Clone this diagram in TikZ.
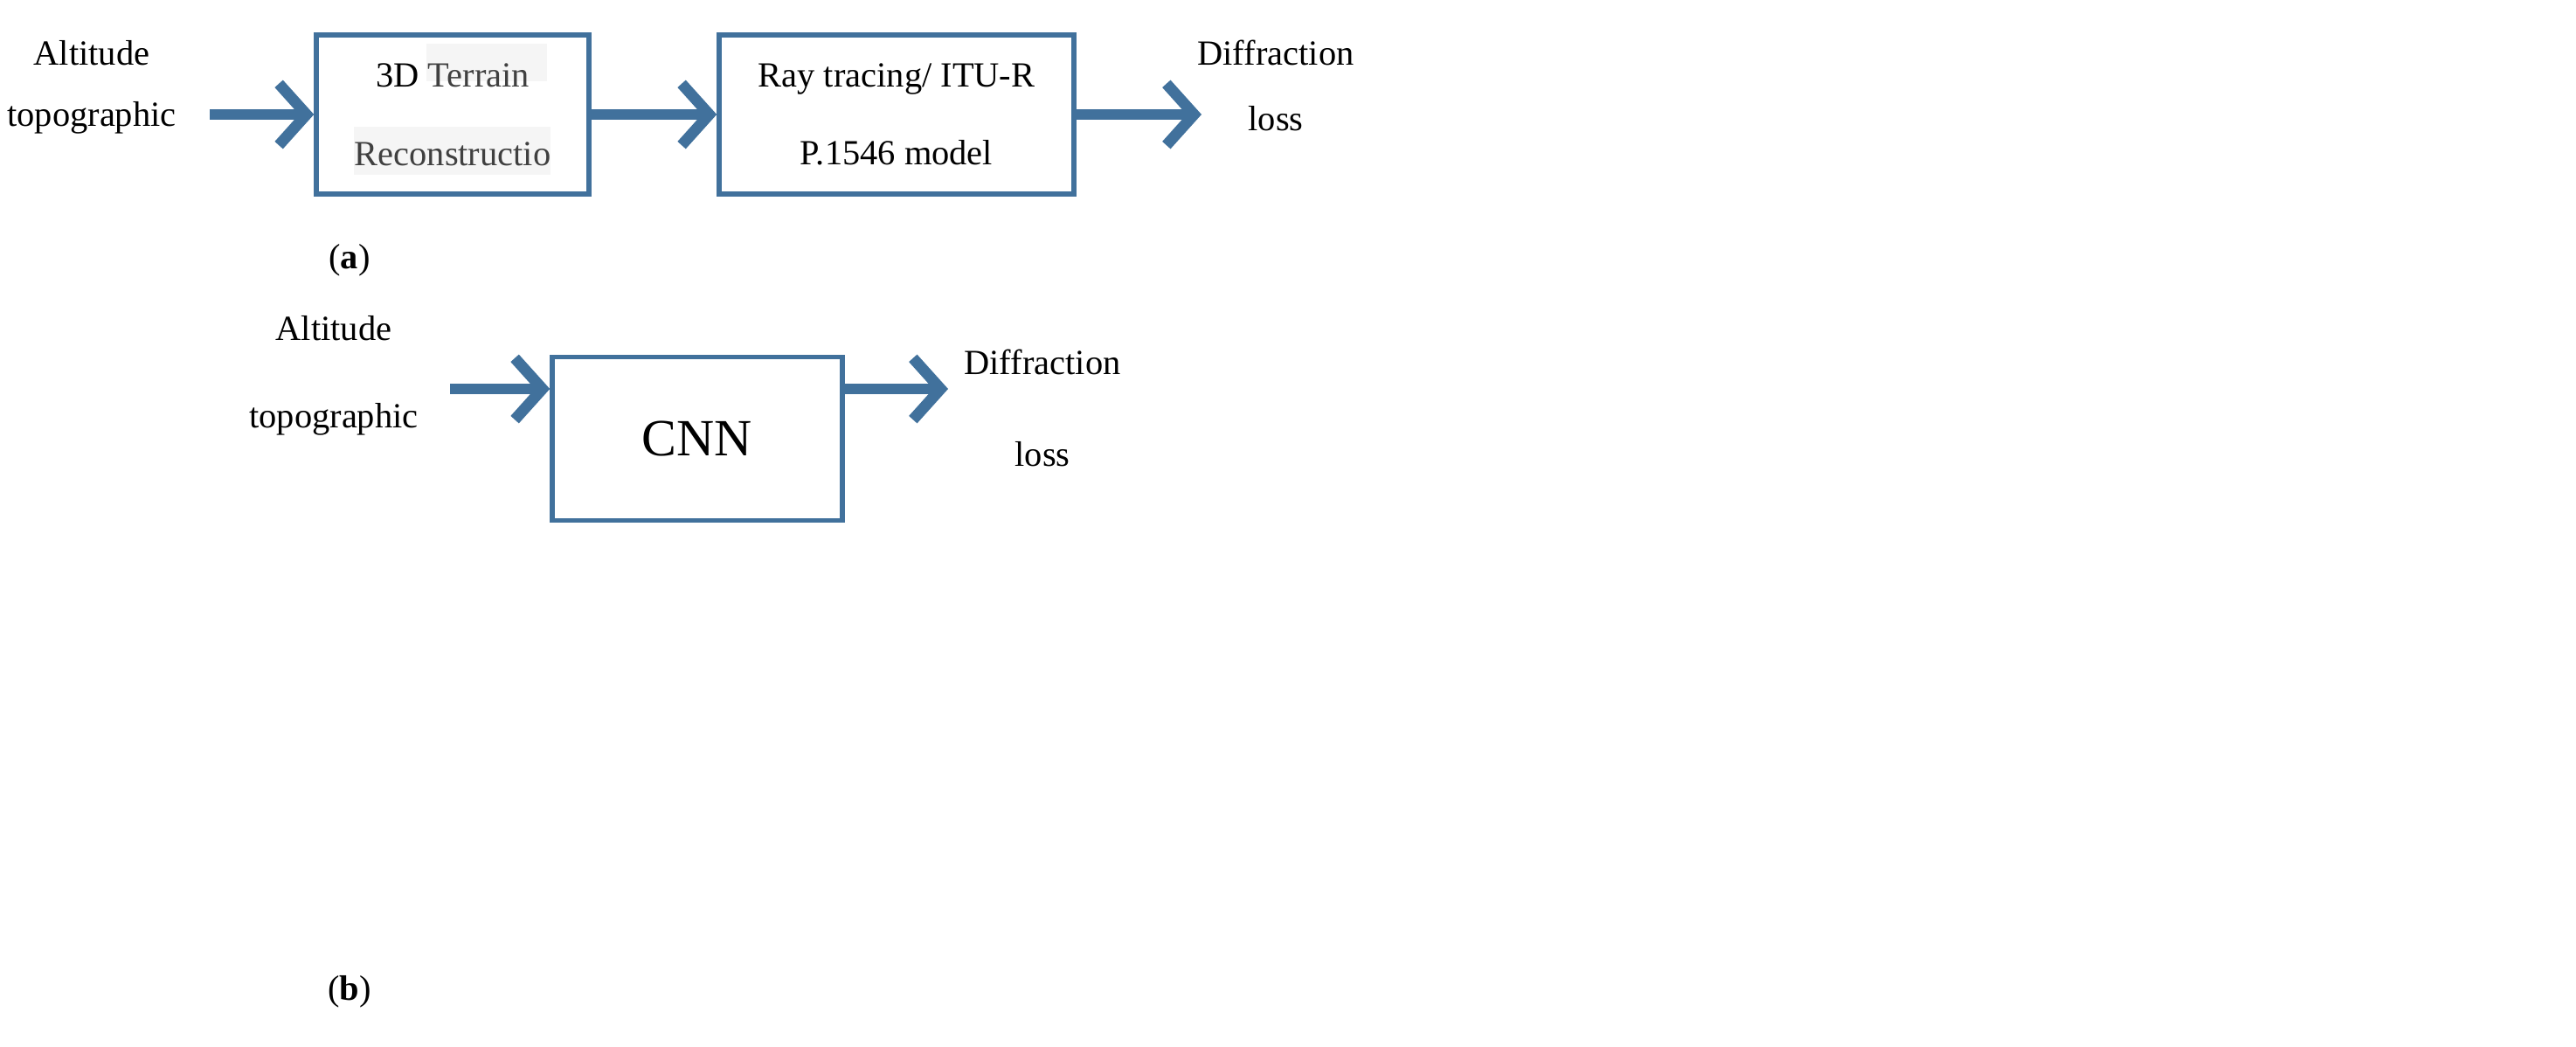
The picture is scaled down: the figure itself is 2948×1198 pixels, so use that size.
\documentclass[tikz,border=0pt]{standalone}
\usepackage{fontspec}
\setmainfont{Liberation Serif}
\usetikzlibrary{arrows.meta}
\definecolor{sb}{HTML}{41719C}
\begin{document}
\begin{tikzpicture}[x=0.01cm,y=-0.01cm,
  arr/.style={draw=sb,line width=3.6pt,-{Straight Barb[length=9pt,width=20pt,line width=3.6pt]}},
  lbl/.style={font=\fontsize{11.5}{20}\selectfont,align=center}]
\useasboundingbox (0,0) rectangle (2948,1198);
\fill[gray!8] (488,50) rectangle (626,93);
\fill[gray!8] (405,145) rectangle (630,200);
\node[draw=sb,line width=1.5pt,minimum width=3.12cm,minimum height=1.82cm] (t) at (518,131) {};
\node[font=\fontsize{11.5}{25.5}\selectfont,align=center] at (518,131) {3D \textcolor{black!75}{Terrain}\\\textcolor{black!75}{Reconstructio}};
\node[draw=sb,line width=1.5pt,minimum width=4.06cm,minimum height=1.82cm,font=\fontsize{11.5}{25.5}\selectfont,align=center] (r) at (1026,131) {Ray tracing/ ITU-R\\P.1546 model};
\node[lbl] (in1) at (105,100) {Altitude\\topographic};
\node[font=\fontsize{11.5}{21.5}\selectfont,align=center] (out1) at (1460,98) {Diffraction\\loss};
\coordinate (a1) at (240,131);
\coordinate (a2) at (1375,131);
\draw[arr] (a1) -- (t.west);
\draw[arr] (t.east) -- (r.west);
\draw[arr] (r.east) -- (a2);
\node[lbl] at (400,298) {(\textbf{a})};
\node[draw=sb,line width=1.5pt,minimum width=3.32cm,minimum height=1.87cm,font=\fontsize{17}{22}\selectfont] (c) at (798,502) {CNN};
\node[font=\fontsize{11.5}{28.5}\selectfont,align=center] (in2) at (382,430) {Altitude\\topographic};
\node[font=\fontsize{11.5}{30}\selectfont,align=center] (out2) at (1193,467) {Diffraction\\loss};
\coordinate (b1) at (515,445);
\coordinate (b2) at (1085,445);
\draw[arr] (b1) -- (b1-|c.west);
\draw[arr] (b2-|c.east) -- (b2);
\node[lbl] at (400,1135) {(\textbf{b})};
\end{tikzpicture}
\end{document}
